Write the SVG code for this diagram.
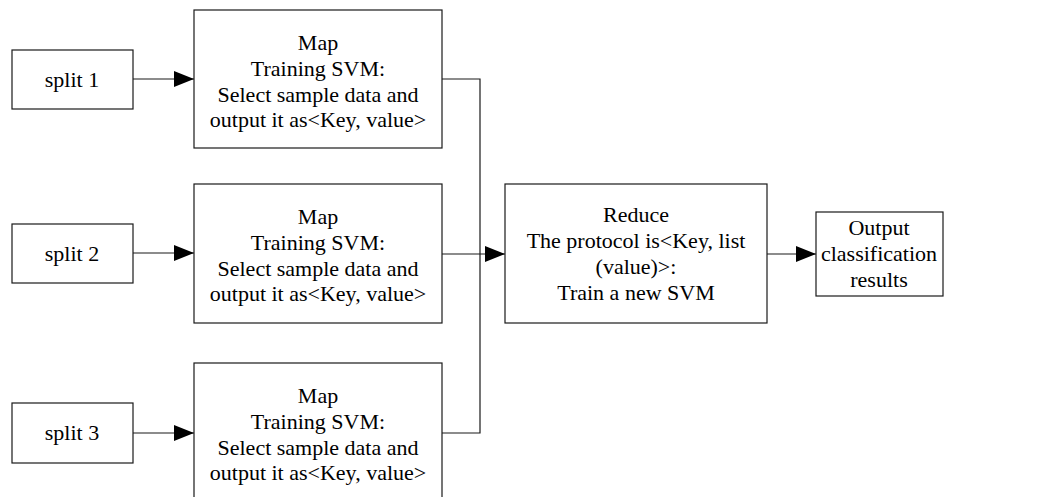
<svg xmlns="http://www.w3.org/2000/svg" width="1056" height="497" viewBox="0 0 1056 497">
  <defs>
    <style>
      .box { fill: #ffffff; stroke: #1a1a1a; stroke-width: 1.2; }
      .t { font-family: "Liberation Serif", "Times New Roman", serif; font-size: 22px; fill: #000; text-anchor: middle; }
      .ln { fill: none; stroke: #1a1a1a; stroke-width: 1.2; }
    </style>
    <marker id="arr" markerUnits="userSpaceOnUse" markerWidth="21" markerHeight="16" refX="20" refY="8" orient="auto">
      <path d="M0,0 L20,8 L0,16 Z" fill="#000"/>
    </marker>
  </defs>
  <rect width="1056" height="497" fill="#ffffff"/>

  <g id="connectors">
    <line class="ln" x1="133" y1="79" x2="194" y2="79" marker-end="url(#arr)"/>
    <line class="ln" x1="133" y1="253" x2="194" y2="253" marker-end="url(#arr)"/>
    <line class="ln" x1="133" y1="433" x2="194" y2="433" marker-end="url(#arr)"/>
    <polyline class="ln" points="442,79 480,79 480,433 442,433"/>
    <line class="ln" x1="442" y1="254" x2="505" y2="254" marker-end="url(#arr)"/>
    <line class="ln" x1="767" y1="254" x2="816" y2="254" marker-end="url(#arr)"/>
  </g>

  <g id="split1">
    <rect class="box" x="12" y="50" width="121" height="59"/>
    <text class="t" x="72" y="87">split 1</text>
  </g>
  <g id="split2">
    <rect class="box" x="12" y="224" width="121" height="59"/>
    <text class="t" x="72" y="261">split 2</text>
  </g>
  <g id="split3">
    <rect class="box" x="12" y="403" width="121" height="60"/>
    <text class="t" x="72" y="440">split 3</text>
  </g>

  <g id="map1">
    <rect class="box" x="194" y="10" width="248" height="138"/>
    <text class="t" x="318" y="50">Map</text>
    <text class="t" x="318" y="76">Training SVM:</text>
    <text class="t" x="318" y="102">Select sample data and</text>
    <text class="t" x="318" y="127">output it as&lt;Key, value&gt;</text>
  </g>
  <g id="map2">
    <rect class="box" x="194" y="184" width="248" height="139"/>
    <text class="t" x="318" y="224">Map</text>
    <text class="t" x="318" y="250">Training SVM:</text>
    <text class="t" x="318" y="276">Select sample data and</text>
    <text class="t" x="318" y="301">output it as&lt;Key, value&gt;</text>
  </g>
  <g id="map3">
    <rect class="box" x="194" y="363" width="248" height="140"/>
    <text class="t" x="318" y="403">Map</text>
    <text class="t" x="318" y="429">Training SVM:</text>
    <text class="t" x="318" y="455">Select sample data and</text>
    <text class="t" x="318" y="480">output it as&lt;Key, value&gt;</text>
  </g>

  <g id="reduce">
    <rect class="box" x="505" y="184" width="262" height="139"/>
    <text class="t" x="636" y="222">Reduce</text>
    <text class="t" x="636" y="248">The protocol is&lt;Key, list</text>
    <text class="t" x="636" y="274">(value)&gt;:</text>
    <text class="t" x="636" y="300">Train a new SVM</text>
  </g>

  <g id="output">
    <rect class="box" x="816" y="212" width="127" height="84"/>
    <text class="t" x="879" y="235">Output</text>
    <text class="t" x="879" y="261">classification</text>
    <text class="t" x="879" y="287">results</text>
  </g>
</svg>
